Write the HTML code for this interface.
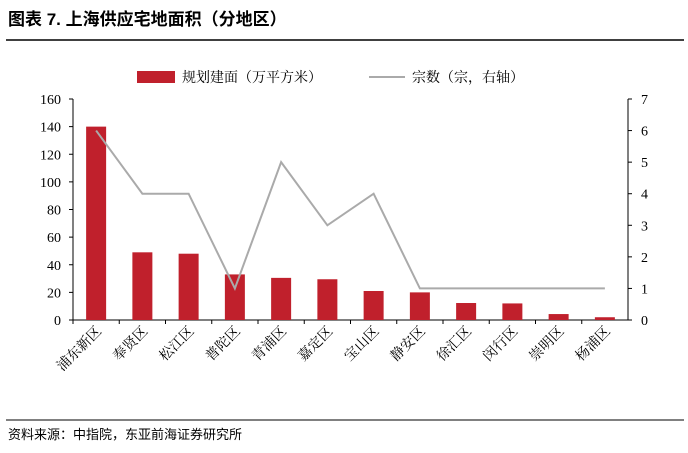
<!DOCTYPE html>
<html><head><meta charset="utf-8"><style>
body{margin:0;background:#fff;width:688px;height:448px;overflow:hidden;font-family:"Liberation Sans","Noto Sans CJK SC",sans-serif}
</style></head><body>
<svg width="688" height="448" xmlns="http://www.w3.org/2000/svg" font-family="Liberation Serif, Noto Serif CJK SC, Noto Sans CJK SC, serif">
<text x="8" y="25" font-size="17" font-weight="bold" font-family="Liberation Sans, Noto Sans CJK SC, sans-serif">图表 7.  上海供应宅地面积（分地区）</text>
<line x1="6" y1="40" x2="684" y2="40" stroke="#000" stroke-width="1.5"/>
<g>
<rect x="137" y="71" width="38" height="12" fill="#c0202c"/>
<text x="182" y="82" font-size="14">规划建面（万平方米）</text>
<line x1="369" y1="77" x2="405" y2="77" stroke="#aaa" stroke-width="2"/>
<text x="412" y="82" font-size="14">宗数（宗，右轴）</text>
</g>
<g id="plot"></g>
<line x1="6" y1="420" x2="684" y2="420" stroke="#000" stroke-width="1"/>
<text x="8" y="439" font-size="13" font-family="Liberation Sans, Noto Sans CJK SC, sans-serif">资料来源：中指院，东亚前海证券研究所</text>
</svg>
<script>
const categories=["浦东新区","奉贤区","松江区","普陀区","青浦区","嘉定区","宝山区","静安区","徐汇区","闵行区","崇明区","杨浦区"];
const areaValues=[140,49,48,33,30.5,29.5,21,20,12.3,12,4.3,2];
const countValues=[6,4,4,1,5,3,4,1,1,1,1,1];
const leftTicks=[0,20,40,60,80,100,120,140,160];
const rightTicks=[0,1,2,3,4,5,6,7];
const NS="http://www.w3.org/2000/svg";
const g=document.getElementById('plot');
const X0=73,X1=628,Y0=320,Y1=99;
const yL=v=>Y0-(v/160)*(Y0-Y1);
const yR=v=>Y0-(v/7)*(Y0-Y1);
const bw=(X1-X0)/categories.length;
const xc=i=>X0+bw*(i+0.5);
function mk(t,a){const e=document.createElementNS(NS,t);for(const k in a)e.setAttribute(k,a[k]);g.appendChild(e);return e;}
let e;
e=mk('line',{x1:X0,y1:Y1,x2:X0,y2:Y0,stroke:'#000'});


e=mk('line',{x1:X1,y1:Y1,x2:X1,y2:Y0,stroke:'#000'});


e=mk('line',{x1:X0,y1:Y0,x2:X1,y2:Y0,stroke:'#000'});


leftTicks.forEach(v=>{const y=yL(v);
mk('line',{x1:X0-4,y1:y,x2:X0,y2:y,stroke:'#000'});
e=mk('text',{x:61,y:y+5,'font-size':14,'text-anchor':'end'});e.textContent=v;

});
rightTicks.forEach(v=>{const y=yR(v);
mk('line',{x1:X1,y1:y,x2:X1+4,y2:y,stroke:'#000'});
e=mk('text',{x:641,y:y+5,'font-size':14});e.textContent=v;

});
categories.forEach((c,i)=>{
mk('line',{x1:X0+bw*i,y1:Y0,x2:X0+bw*i,y2:Y0+4,stroke:'#000'});
const w=20,y=yL(areaValues[i]);
e=mk('rect',{x:xc(i)-w/2,y:y,width:w,height:Y0-y,fill:'#c0202c'});


e=mk('text',{x:0,y:0,'font-size':14,'text-anchor':'end',transform:`translate(${xc(i)+6},${Y0+12}) rotate(-45)`});
e.textContent=c;


});
e=mk('polyline',{points:countValues.map((v,i)=>xc(i)+','+yR(v)).join(' '),fill:'none',stroke:'#aaa','stroke-width':2});


</script>
</body></html>
